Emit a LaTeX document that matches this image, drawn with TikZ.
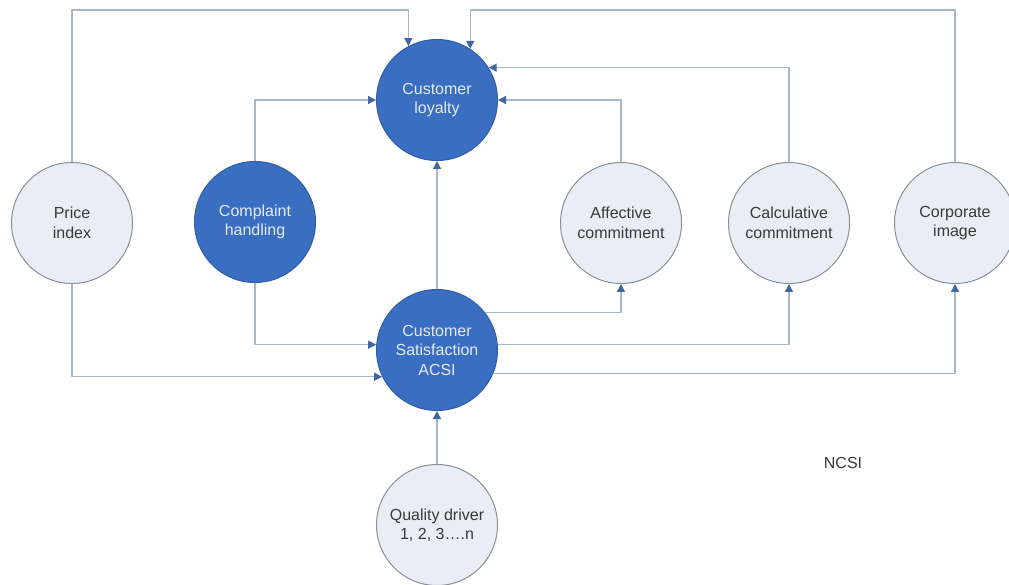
\documentclass[tikz,border=0pt]{standalone}
\usepackage{fontspec}
\setmainfont{Liberation Sans}
\usetikzlibrary{arrows.meta}
\definecolor{darkfill}{HTML}{3A6EC0}
\definecolor{darkedge}{HTML}{2F5EA8}
\definecolor{lightfill}{HTML}{E9EDF6}
\definecolor{lightedge}{HTML}{8A8F99}
\definecolor{linecol}{HTML}{A8B6C8}
\definecolor{tipcol}{HTML}{4466A0}
\definecolor{darktext}{HTML}{E4EBF7}
\definecolor{lighttext}{HTML}{3A3A3A}
\begin{document}
\begin{tikzpicture}[x=1pt,y=-1pt,
  base/.style={circle,minimum size=121pt,inner sep=0pt,align=center,
    font=\fontsize{16}{19.5}\selectfont,line width=1pt},
  darknode/.style={base,fill=darkfill,draw=darkedge,text=darktext},
  lightnode/.style={base,fill=lightfill,draw=lightedge,text=lighttext},
  conn/.style={draw=linecol,line width=1.3pt,
    -{Triangle[length=8pt,width=8pt,color=tipcol]}},
  plain/.style={font=\fontsize{16}{19.5}\selectfont,text=lighttext}]
\fill[white] (0,0) rectangle (1009,585);
\useasboundingbox (0,0) rectangle (1009,585);
\coordinate (topline) at (0,10);
% nodes
\node[darknode]  (loyalty)    at (437,100) {Customer\\loyalty};
\node[lightnode] (price)      at (72,223)  {Price\\index};
\node[darknode]  (complaint)  at (255,222) {Complaint\\handling};
\node[lightnode] (affective)  at (621,223) {Affective\\commitment};
\node[lightnode] (calc)       at (789,223) {Calculative\\commitment};
\node[lightnode] (corporate)  at (955,223) {Corporate\\image};
\node[darknode]  (sat)        at (437,350) {Customer\\Satisfaction\\ACSI};
\node[lightnode] (quality)    at (437,525) {Quality driver\\1, 2, 3….n};
\node[plain]     (ncsi)       at (843,463) {NCSI};
% connectors to loyalty
\draw[conn] (price.north) -- (price.north |- topline) -| (loyalty.118);
\draw[conn] (corporate.north) -- (corporate.north |- topline) -| (loyalty.57);
\draw[conn] (complaint.north) |- (loyalty.west);
\draw[conn] (affective.north) |- (loyalty.east);
\draw[conn] (calc.north) |- (loyalty.32);
\draw[conn] (sat.north) -- (loyalty.south);
% connectors to satisfaction
\draw[conn] (complaint.south) |- (sat.175);
\draw[conn] (price.south) |- (sat.206.7);
\draw[conn] (quality.north) -- (sat.south);
% connectors from satisfaction
\draw[conn] (sat.38) -| (affective.south);
\draw[conn] (sat.5) -| (calc.south);
\draw[conn] (sat.-23) -| (corporate.south);
\end{tikzpicture}
\end{document}
